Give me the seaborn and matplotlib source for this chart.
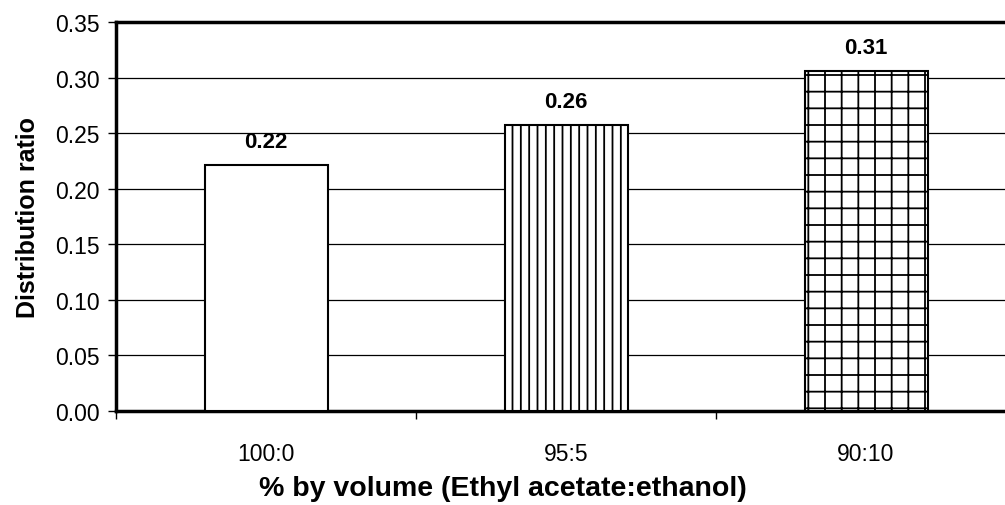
import matplotlib
matplotlib.use("Agg")
import matplotlib.pyplot as plt
import seaborn as sns
import numpy as np

categories = ["100:0", "95:5", "90:10"]
values = [0.221, 0.257, 0.306]
hatches = ["", "||", "+"]
y_ticks = [0.00, 0.05, 0.10, 0.15, 0.20, 0.25, 0.30, 0.35]

sns.set_theme(style="white")
plt.rcParams["font.family"] = ["Liberation Sans", "DejaVu Sans"]
plt.rcParams["hatch.linewidth"] = 1.3
plt.rcParams["hatch.color"] = "black"
plt.rcParams["text.color"] = "black"
plt.rcParams["axes.labelcolor"] = "black"
plt.rcParams["xtick.color"] = "black"
plt.rcParams["ytick.color"] = "black"

W, H = 1005, 506
fig = plt.figure(figsize=(W / 100, H / 100), dpi=100)
ax = fig.add_axes([116 / W, 94 / H, 900 / W, 389 / H])

sns.barplot(x=categories, y=values, color="white", edgecolor="black",
            linewidth=1.5, width=0.41, ax=ax, zorder=3, saturation=1)
for p, h in zip(ax.patches, hatches):
    p.set_hatch(h)
    p.set_facecolor("white")
    p.set_edgecolor("black")

for i, v in enumerate(values):
    ax.annotate(f"{v:.2f}", (i, v), xytext=(0, 9.5), textcoords="offset points",
                ha="center", va="bottom", fontsize=16, fontweight="bold", color="black")

ax.set_xlim(-0.5, 2.5)
ax.set_ylim(0, 0.35)
ax.set_yticks(y_ticks)
ax.set_yticklabels([f"{t:.2f}" for t in y_ticks], fontsize=16.5)
ax.yaxis.grid(True, color="black", linewidth=0.9, zorder=0)
ax.set_axisbelow(True)

ax.set_xticks([-0.5, 0.5, 1.5, 2.5])
ax.set_xticklabels([])
ax.set_xticks(range(len(categories)), minor=True)
ax.set_xticklabels(categories, minor=True, fontsize=16.5)
ax.tick_params(axis="x", which="major", direction="out", length=6, width=1, color="black", bottom=True)
ax.tick_params(axis="x", which="minor", length=0, pad=22, labelcolor="black")
ax.tick_params(axis="y", direction="out", length=6, width=1, color="black", left=True, pad=5.5, labelcolor="black")

for s in ["left", "bottom", "top"]:
    ax.spines[s].set_visible(True)
    ax.spines[s].set_color("black")
    ax.spines[s].set_linewidth(2.5)
ax.spines["right"].set_visible(False)

ax.set_xlabel("% by volume (Ethyl acetate:ethanol)", fontsize=20.5, fontweight="bold", color="black")
ax.xaxis.set_label_coords((W / 2 - 116) / 900, -77 / 389)
ax.xaxis.label.set_verticalalignment("center")
ax.set_ylabel("Distribution ratio", fontsize=18, fontweight="bold", labelpad=11, color="black")

fig.savefig("out.png", dpi=100)
